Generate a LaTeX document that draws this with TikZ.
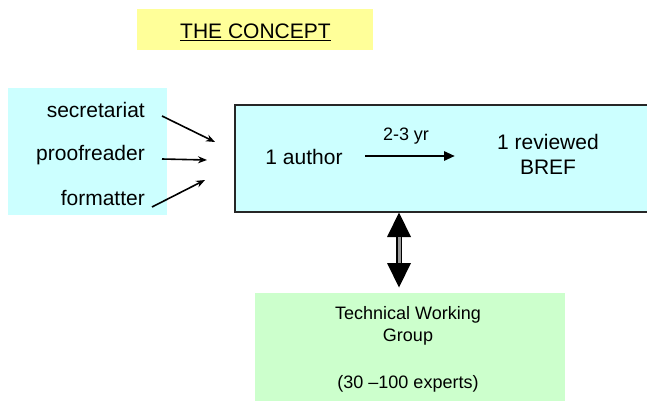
\documentclass[tikz,border=0pt]{standalone}
\usepackage{fontspec}
\setmainfont{Liberation Sans}
\usetikzlibrary{arrows.meta,calc}
\definecolor{cyanbg}{HTML}{CCFFFF}
\definecolor{greenbg}{HTML}{CCFFCC}
\definecolor{yellowbg}{HTML}{FFFF99}
\tikzset{
  big/.style={font=\fontsize{21}{25}\selectfont},
  small/.style={font=\fontsize{18}{22}\selectfont},
  lbl/.style={big, inner sep=0pt, anchor=east},
  feed/.style={-{Stealth[length=9pt,width=7pt]}, line width=1.6pt},
}
\begin{document}
\begin{tikzpicture}[x=1pt,y=-1pt]
\useasboundingbox (0,0) rectangle (647,401);
% title
\node[fill=yellowbg, minimum width=236pt, minimum height=41pt, inner sep=0pt] (title) at (255,29.5) {};
\node[big, inner sep=0pt] (tt) at (255.5,32) {\underline{THE CONCEPT}};
% left box
\node[fill=cyanbg, minimum width=159pt, minimum height=127pt, inner sep=0pt] (left) at (87.5,151.5) {};
\node[lbl] (sec) at (145,110) {secretariat};
\node[lbl] (pro) at (145,155) {proofreader};
\node[lbl] (fmt) at (145,198) {formatter};
% main box
\node[fill=cyanbg, draw=black!85, line width=1.3pt, minimum width=430pt, minimum height=107pt, inner sep=0pt] (main) at (450,158.5) {};
\coordinate (e1) at (215,142);
\coordinate (e2) at (207,160);
\coordinate (e3) at (205,180);
\coordinate (s1) at (162,116);
\coordinate (s2) at (162,159);
\coordinate (s3) at (152,207);
\draw[feed] (s1) -- (e1);
\draw[feed] (s2) -- (e2);
\draw[feed] (s3) -- (e3);
\node[big, inner sep=0pt] (auth) at (304,157) {1 author};
\node[big, inner sep=0pt, align=center] (bref) at (548,154) {1 reviewed\\BREF};
\coordinate (a1) at (365,156);
\coordinate (a2) at (455,156);
\draw[-{Triangle[length=11pt,width=9pt]}, line width=2.8pt] (a1) -- (a2);
\node[small, inner sep=0pt] (yr) at (406,136) {2-3 yr};
% TWG box
\node[fill=greenbg, minimum width=310pt, minimum height=110pt, inner sep=0pt] (twg) at (410,348) {};
\node[small, inner sep=0pt, align=center] (twgt) at (408,326) {Technical Working\\Group};
\node[small, inner sep=0pt] (exp) at (408,384) {(30 --100 experts)};
% double arrow
\coordinate (t1) at (399,212.5);
\coordinate (t2) at (399,237);
\coordinate (b1) at (399,263);
\coordinate (b2) at (399,287.5);
\fill (t1) -- ($(t2)+(-12,0)$) -- ($(t2)+(12,0)$) -- cycle;
\fill (b2) -- ($(b1)+(-12,0)$) -- ($(b1)+(12,0)$) -- cycle;
\draw[line width=1.6pt, double=black!40, double distance=3pt] (t2) -- (b1);
\end{tikzpicture}
\end{document}
